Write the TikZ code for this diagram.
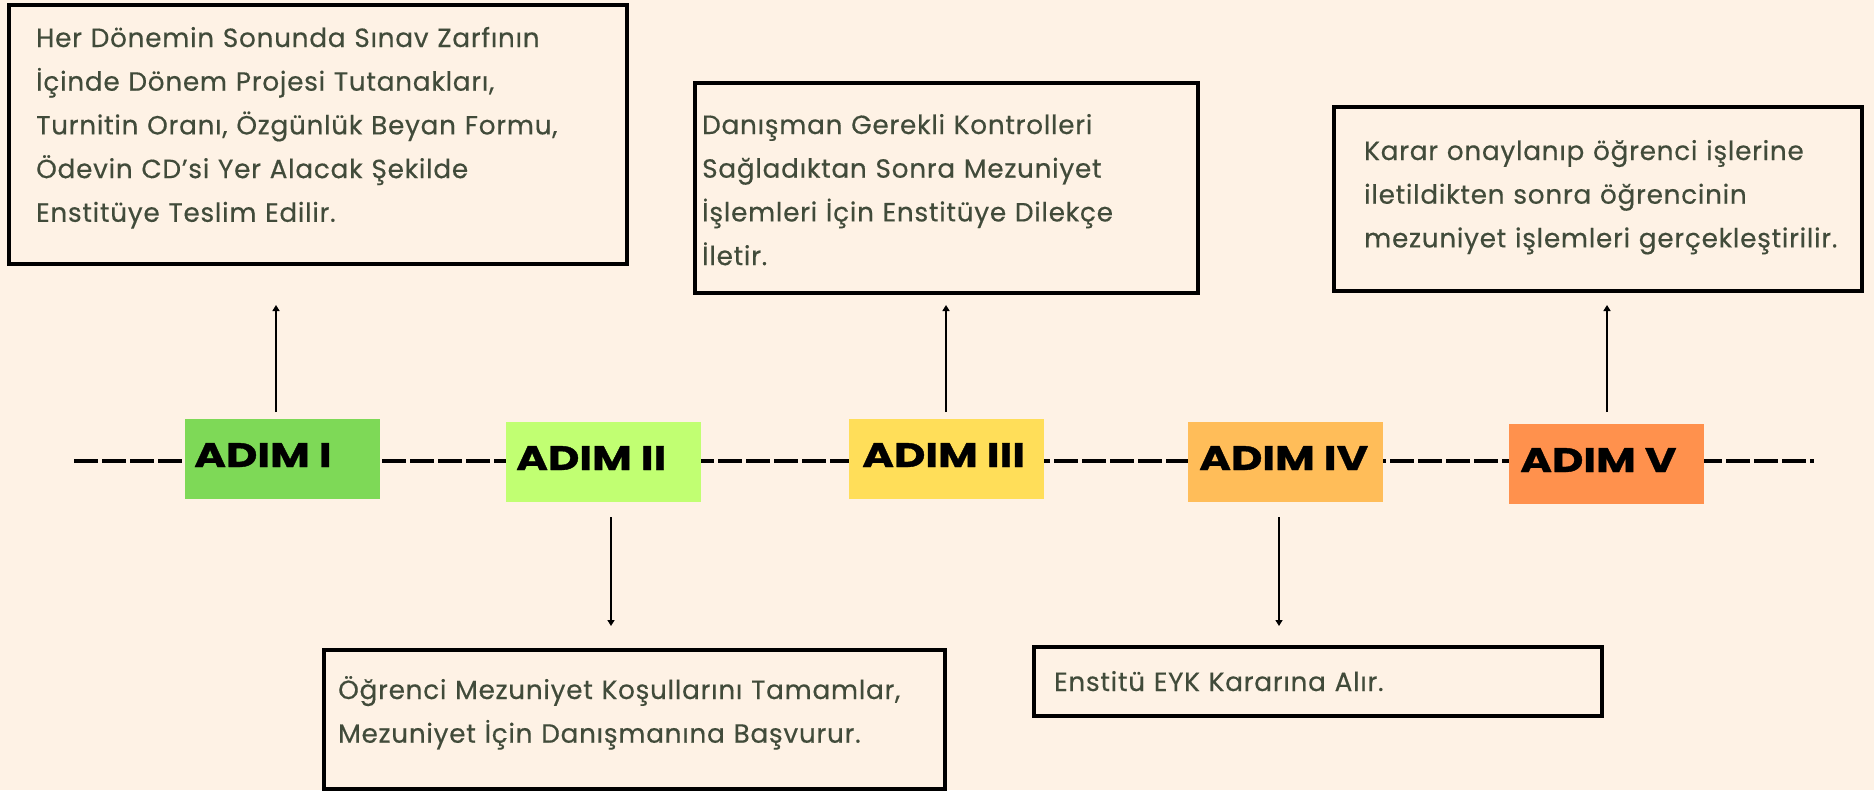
\documentclass[tikz,border=0pt]{standalone}
\usepackage{fontspec}
\setmainfont{Poppins}
\newfontfamily\bodyfont{Poppins}[LetterSpace=2.8, FakeBold=0.4]
\newfontfamily\stepfont{Poppins}[FakeStretch=1.27, FakeBold=1]
\usetikzlibrary{arrows.meta}
\definecolor{bgc}{HTML}{FEF2E5}
\definecolor{txc}{RGB}{65,75,58}
\definecolor{cI}{HTML}{7ED957}
\definecolor{cII}{HTML}{C1FF72}
\definecolor{cIII}{HTML}{FFDE59}
\definecolor{cIV}{HTML}{FFBD59}
\definecolor{cV}{HTML}{FF914D}
\begin{document}
\begin{tikzpicture}[x=1pt,y=-1pt,
  infobox/.style={draw=black, line width=4pt, fill=bgc},
  infotext/.style={inner sep=0pt, anchor=base west, text=txc, align=left, text width=#1,
     font=\bodyfont\fontsize{26.3}{43.7}\selectfont},
  stepbox/.style={inner sep=0pt, minimum width=195pt, minimum height=80pt, draw=none},
  steplbl/.style={inner sep=0pt, anchor=base west, text=black, font=\stepfont\fontsize{34}{40}\selectfont\bfseries},
  arr/.style={line width=1.8pt, -{Triangle[width=7pt,length=6pt]}},
  timeline/.style={line width=4pt, dash pattern=on 24pt off 4pt}
]
\useasboundingbox (0,0) rectangle (1874,790);
\fill[bgc] (0,0) rectangle (1874,790);

% timeline
\coordinate (tl0) at (74,461);
\coordinate (tl1) at (1814,461);
\draw[timeline] (tl0) -- (tl1);

% step boxes
\node[stepbox, fill=cI]   (a1) at (282.5,459) {};
\node[stepbox, fill=cII]  (a2) at (603.5,462) {};
\node[stepbox, fill=cIII] (a3) at (946.5,459) {};
\node[stepbox, fill=cIV]  (a4) at (1285.5,461.5) {};
\node[stepbox, fill=cV]   (a5) at (1606.5,463.5) {};
\node[steplbl] (l1) at (194,467) {ADIM I};
\node[steplbl] (l2) at (516,470) {ADIM II};
\node[steplbl] (l3) at (862,467) {ADIM III};
\node[steplbl] (l4) at (1199,470) {ADIM IV};
\node[steplbl] (l5) at (1520,472) {ADIM V};

% info boxes
\node[infobox, minimum width=618pt, minimum height=259pt, anchor=north west, inner sep=0pt] (b1) at (7,3) {};
\node[infobox, minimum width=503pt, minimum height=210pt, anchor=north west, inner sep=0pt] (b3) at (693,81) {};
\node[infobox, minimum width=528pt, minimum height=184pt, anchor=north west, inner sep=0pt] (b5) at (1332,105) {};
\node[infobox, minimum width=621pt, minimum height=139pt, anchor=north west, inner sep=0pt] (b2) at (322,648) {};
\node[infobox, minimum width=568pt, minimum height=69pt, anchor=north west, inner sep=0pt] (b4) at (1032,645) {};

\node[infotext=580pt] (t1) at (36,47) {Her Dönemin Sonunda Sınav Zarfının\\İçinde Dönem Projesi Tutanakları,\\Turnitin Oranı, Özgünlük Beyan Formu,\\Ödevin CD’si Yer Alacak Şekilde\\Enstitüye Teslim Edilir.};
\node[infotext=480pt] (t3) at (702,134) {Danışman Gerekli Kontrolleri\\Sağladıktan Sonra Mezuniyet\\İşlemleri İçin Enstitüye Dilekçe\\İletir.};
\node[infotext=500pt] (t5) at (1364,160) {Karar onaylanıp öğrenci işlerine\\iletildikten sonra öğrencinin\\mezuniyet işlemleri gerçekleştirilir.};
\node[infotext=600pt] (t2) at (338,699) {Öğrenci Mezuniyet Koşullarını Tamamlar,\\Mezuniyet İçin Danışmanına Başvurur.};
\node[infotext=540pt] (t4) at (1054,691) {Enstitü EYK Kararına Alır.};

% connectors
\coordinate (p1) at (276,412); \coordinate (q1) at (276,305);
\coordinate (p2) at (611,517); \coordinate (q2) at (611,626);
\coordinate (p3) at (946,412); \coordinate (q3) at (946,305);
\coordinate (p4) at (1279,517); \coordinate (q4) at (1279,626);
\coordinate (p5) at (1607,412); \coordinate (q5) at (1607,305);
\draw[arr] (p1) -- (q1);
\draw[arr] (p2) -- (q2);
\draw[arr] (p3) -- (q3);
\draw[arr] (p4) -- (q4);
\draw[arr] (p5) -- (q5);
\end{tikzpicture}
\end{document}
